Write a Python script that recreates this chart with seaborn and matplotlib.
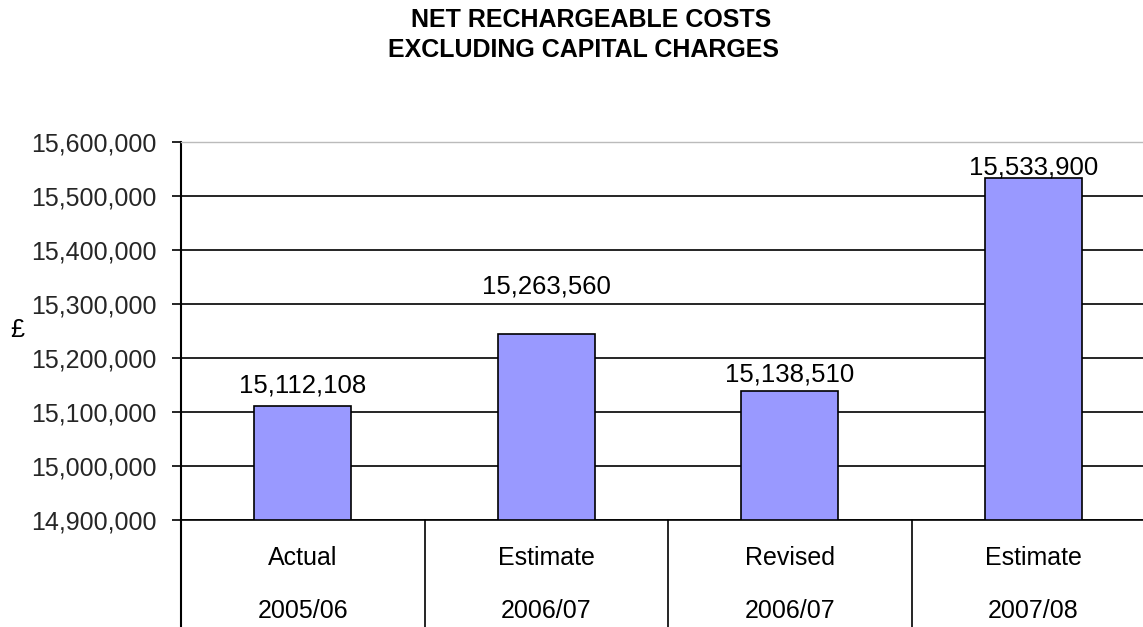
import matplotlib
matplotlib.use("Agg")
import matplotlib.pyplot as plt
import seaborn as sns
import pandas as pd
from matplotlib.ticker import FuncFormatter

# ---- data ----
row1_labels = ["Actual", "Estimate", "Revised", "Estimate"]
row2_labels = ["2005/06", "2006/07", "2006/07", "2007/08"]
bar_values = [15112108, 15244000, 15138510, 15533900]   # bar heights as drawn
value_labels = ["15,112,108", "15,263,560", "15,138,510", "15,533,900"]
y_ticks = [14900000, 15000000, 15100000, 15200000, 15300000, 15400000, 15500000, 15600000]
title_lines = ["NET RECHARGEABLE COSTS", "EXCLUDING CAPITAL CHARGES"]

sns.set_theme(style="white")
plt.rcParams['font.family'] = ['Liberation Sans', 'DejaVu Sans']

W, H = 1143, 627
fig = plt.figure(figsize=(W / 100, H / 100), dpi=100)
ax = fig.add_axes([181 / W, 1 - 520 / H, (1155 - 181) / W, (520 - 142.3) / H])

df = pd.DataFrame({"cat": list(range(len(bar_values))), "val": bar_values})
sns.barplot(data=df, x="cat", y="val", color="#9999FF", saturation=1, width=0.4,
            edgecolor="black", linewidth=1.2, ax=ax)

ax.set_xlim(-0.5, len(bar_values) - 0.5)
ax.set_ylim(y_ticks[0], y_ticks[-1])
ax.set_yticks(y_ticks)
ax.yaxis.set_major_formatter(FuncFormatter(lambda v, p: f"{int(round(v)):,}"))
ax.tick_params(axis="y", direction="out", length=6.5, width=1.2, color="black",
               pad=11, labelsize=18, left=True)
ax.set_xticks([])
ax.set_xlabel("")
ax.set_ylabel("")

ax.set_axisbelow(True)
ax.yaxis.grid(True, color="black", linewidth=1.2)
ax.get_ygridlines()[-1].set_color("#BBBBBB")
ax.spines["left"].set_color("black")
ax.spines["left"].set_linewidth(1.5)
ax.spines["bottom"].set_color("black")
ax.spines["bottom"].set_linewidth(1.2)
ax.spines["top"].set_color("#BBBBBB")
ax.spines["top"].set_linewidth(1.0)
ax.spines["right"].set_visible(False)

# value labels (offsets in pixels, as positioned in the reference)
label_offsets = [13, 41, 10, 3]
for i, (v, t) in enumerate(zip(bar_values, value_labels)):
    ax.annotate(t, (i, v), xytext=(0, label_offsets[i]), textcoords="offset pixels",
                ha="center", va="baseline", fontsize=18.5, color="black")

# multi-level category axis
axh = 520 - 142.3
xt = ax.get_xaxis_transform()
for i, (a, b) in enumerate(zip(row1_labels, row2_labels)):
    ax.text(i, -(558 - 520) / axh, a, transform=xt, ha="center", va="center",
            fontsize=18, color="black")
    ax.text(i, -(611 - 520) / axh, b, transform=xt, ha="center", va="center",
            fontsize=18, color="black")
for k in range(len(bar_values)):
    ax.plot([k - 0.5, k - 0.5], [0, -(627 - 520) / axh], transform=xt,
            color="black", lw=1.5 if k == 0 else 1.2, clip_on=False)

# title
fig.text(591 / W, 1 - 20 / H, title_lines[0], ha="center", va="center",
         fontsize=18, fontweight="bold", color="black")
fig.text(583 / W, 1 - 50 / H, title_lines[1], ha="center", va="center",
         fontsize=18, fontweight="bold", color="black")

fig.text(17 / W, 1 - 330 / H, "£", ha="center", va="center", fontsize=18, color="black")

fig.savefig("out.png", dpi=100)
